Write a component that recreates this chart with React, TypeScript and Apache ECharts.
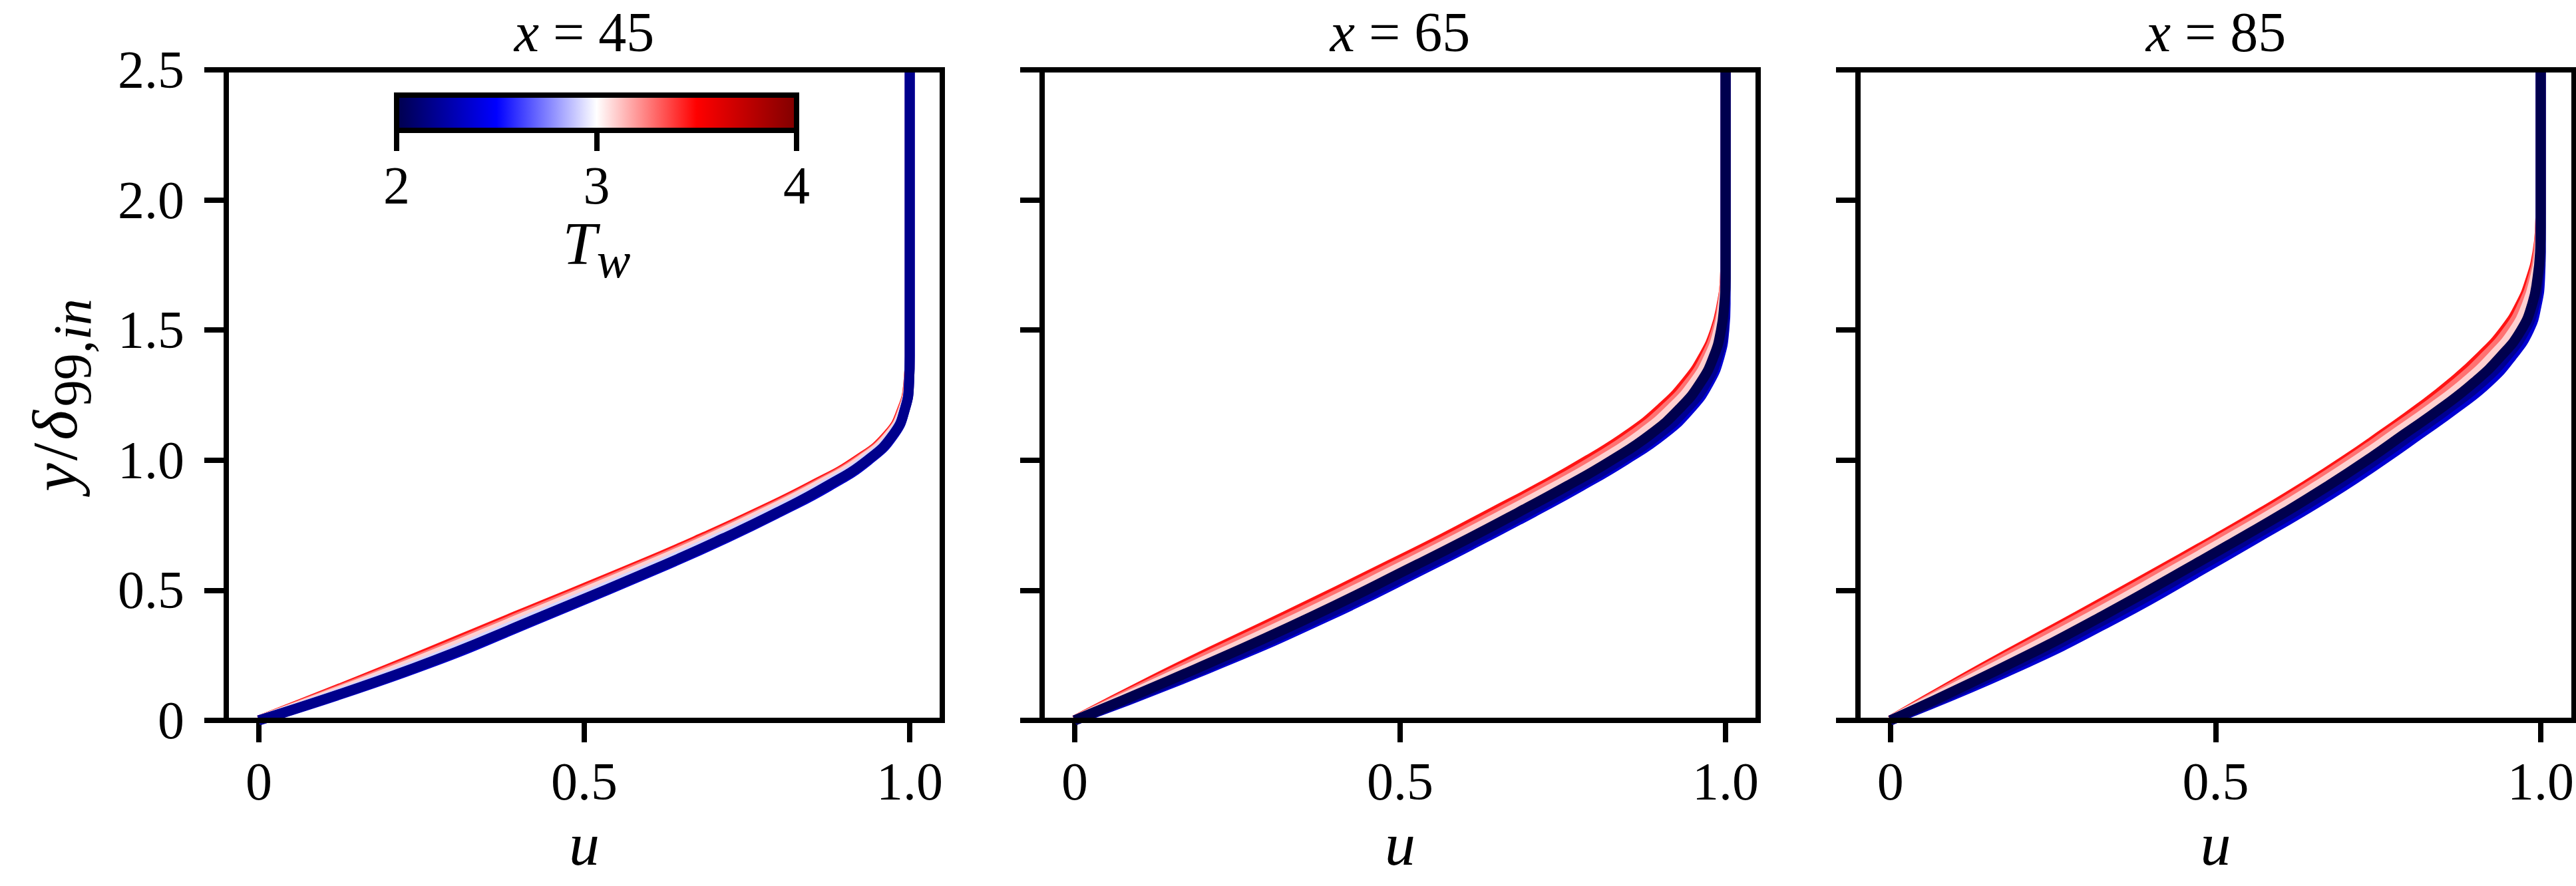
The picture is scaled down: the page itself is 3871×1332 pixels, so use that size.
import { useEffect, useRef } from 'react'
import * as echarts from 'echarts'

// wall-normal stations, one panel each
const STATIONS = [45, 65, 85]

// y/delta_99,in grid shared by every profile
const Y = [0, 0.2, 0.4, 0.6, 0.7, 0.8, 0.9, 1.0, 1.1, 1.2, 1.3, 1.4, 1.5, 1.6, 1.7, 1.8, 1.9, 2.0, 2.5]

const X_TICKS = [0, 0.5, 1.0]
const Y_TICKS = [0, 0.5, 1.0, 1.5, 2.0, 2.5]
const TW_TICKS = [2, 3, 4]
const TW_RANGE = [2, 4]

// seismic colormap stops
const SEISMIC = ['#00004d', '#0000ff', '#ffffff', '#ff0000', '#800000']

// u at each Y, x = 45
const X45_RED = [0, 0.201, 0.394, 0.588, 0.68, 0.767, 0.848, 0.919, 0.967, 0.989, 0.998, 1, 1, 1, 1, 1, 1, 1, 1]
const X45_SALMON = [0, 0.208, 0.402, 0.595, 0.687, 0.773, 0.853, 0.922, 0.969, 0.99, 0.998, 1, 1, 1, 1, 1, 1, 1, 1]
const X45_PINK = [0, 0.215, 0.41, 0.602, 0.693, 0.778, 0.857, 0.925, 0.97, 0.991, 0.999, 1, 1, 1, 1, 1, 1, 1, 1]
const X45_LAVENDER = [0, 0.228, 0.424, 0.615, 0.705, 0.789, 0.866, 0.931, 0.973, 0.992, 0.999, 1, 1, 1, 1, 1, 1, 1, 1]
const X45_BLUE = [0, 0.241, 0.439, 0.629, 0.718, 0.8, 0.876, 0.937, 0.976, 0.993, 0.999, 1, 1, 1, 1, 1, 1, 1, 1]
const X45_NAVY = [0, 0.237, 0.435, 0.625, 0.714, 0.797, 0.872, 0.935, 0.975, 0.993, 0.999, 1, 1, 1, 1, 1, 1, 1, 1]

// x = 65
const X65_RED = [0, 0.156, 0.323, 0.486, 0.566, 0.642, 0.718, 0.788, 0.851, 0.901, 0.939, 0.966, 0.984, 0.994, 0.999, 1, 1, 1, 1]
const X65_SALMON = [0, 0.164, 0.333, 0.496, 0.576, 0.652, 0.727, 0.797, 0.859, 0.908, 0.945, 0.97, 0.986, 0.995, 0.999, 1, 1, 1, 1]
const X65_PINK = [0, 0.174, 0.347, 0.509, 0.588, 0.664, 0.739, 0.809, 0.87, 0.917, 0.952, 0.975, 0.989, 0.996, 1, 1, 1, 1, 1]
const X65_BLUE = [0, 0.206, 0.389, 0.551, 0.629, 0.705, 0.778, 0.846, 0.905, 0.947, 0.975, 0.991, 0.998, 1, 1, 1, 1, 1, 1]
const X65_NAVY = [0, 0.2, 0.381, 0.543, 0.621, 0.697, 0.77, 0.839, 0.898, 0.941, 0.971, 0.988, 0.997, 0.999, 1, 1, 1, 1, 1]
const X65_DARK = [0, 0.188, 0.365, 0.527, 0.606, 0.682, 0.756, 0.825, 0.885, 0.93, 0.962, 0.982, 0.993, 0.998, 1, 1, 1, 1, 1]

// x = 85
const X85_RED = [0, 0.14, 0.287, 0.431, 0.502, 0.571, 0.637, 0.699, 0.757, 0.813, 0.864, 0.908, 0.944, 0.969, 0.985, 0.995, 0.999, 1, 1]
const X85_SALMON = [0, 0.146, 0.295, 0.439, 0.509, 0.579, 0.644, 0.706, 0.764, 0.821, 0.872, 0.915, 0.95, 0.973, 0.988, 0.996, 0.999, 1, 1]
const X85_PINK = [0, 0.156, 0.308, 0.451, 0.521, 0.59, 0.655, 0.717, 0.775, 0.832, 0.884, 0.926, 0.959, 0.979, 0.991, 0.998, 1, 1, 1]
const X85_BLUE = [0, 0.191, 0.352, 0.494, 0.563, 0.632, 0.697, 0.757, 0.814, 0.87, 0.92, 0.956, 0.982, 0.994, 0.999, 1, 1, 1, 1]
const X85_NAVY = [0, 0.181, 0.339, 0.482, 0.552, 0.621, 0.686, 0.746, 0.803, 0.859, 0.91, 0.948, 0.976, 0.991, 0.997, 1, 1, 1, 1]
const X85_DARK = [0, 0.17, 0.325, 0.468, 0.538, 0.607, 0.672, 0.733, 0.79, 0.847, 0.898, 0.939, 0.97, 0.987, 0.995, 0.999, 1, 1, 1]

// drawing order per panel, last on top
const PROFILES = [
  [
    { color: '#ff1414', u: X45_RED },
    { color: '#ff7272', u: X45_SALMON },
    { color: '#ffd0d0', u: X45_PINK },
    { color: '#d4d4ff', u: X45_LAVENDER },
    { color: '#0000cc', u: X45_BLUE },
    { color: '#00008c', u: X45_NAVY },
  ],
  [
    { color: '#ff1414', u: X65_RED },
    { color: '#ff7272', u: X65_SALMON },
    { color: '#ffd0d0', u: X65_PINK },
    { color: '#0000d2', u: X65_BLUE },
    { color: '#000092', u: X65_NAVY },
    { color: '#00004e', u: X65_DARK },
  ],
  [
    { color: '#ff1414', u: X85_RED },
    { color: '#ff7272', u: X85_SALMON },
    { color: '#ffd0d0', u: X85_PINK },
    { color: '#0000d2', u: X85_BLUE },
    { color: '#000092', u: X85_NAVY },
    { color: '#00004e', u: X85_DARK },
  ],
]

const W = 3871
const H = 1332
const PANEL_LEFT = [340, 1566, 2792]
const PANEL_TOP = 105
const PANEL_W = 1076
const PANEL_H = 978
const CBAR = { left: 596, top: 143, width: 601, height: 53 }
const SERIF = '"Liberation Serif", "Times New Roman", serif'

const fmt = (v: number) => (v === 0 ? '0' : v.toFixed(1))

const txt = (size: number, italic = false, extra: object = {}) => ({
  fontFamily: SERIF,
  fontSize: size,
  lineHeight: size,
  fontStyle: italic ? 'italic' : 'normal',
  color: '#000',
  verticalAlign: 'top',
  ...extra,
})

// y label: main 96, subscript 80 dropped by padding
const YLABEL_RICH = {
  i: txt(96, true),
  r: txt(96, false, { padding: [0, 4, 0, 4] }),
  s: txt(80, false, { padding: [35, 0, 0, 6] }),
  si: txt(80, true, { padding: [35, 0, 0, 0] }),
}

const U_RICH = { i: txt(92, true) }

const TW_RICH = {
  i: txt(92, true),
  si: txt(76, true, { padding: [33, 0, 0, 0] }),
}

const TITLE_RICH = { ti: txt(84, true), tr: txt(84) }

export default function App() {
  const ref = useRef<HTMLDivElement>(null)

  useEffect(() => {
    if (!ref.current) return
    const chart = echarts.init(ref.current, undefined, { renderer: 'svg' })

    const tick = { show: true, inside: false, length: 33, lineStyle: { color: '#000', width: 8 } }
    const label = { fontFamily: SERIF, fontSize: 80, color: '#000' }
    const noLine = { show: false, onZero: false }

    const grids: any[] = PANEL_LEFT.map((left) => ({ left, top: PANEL_TOP, width: PANEL_W, height: PANEL_H }))
    grids.push({ ...CBAR })

    const xAxes: any[] = PANEL_LEFT.map((_, i) => ({
      type: 'value',
      gridIndex: i,
      min: -0.05,
      max: 1.05,
      axisLine: noLine,
      splitLine: { show: false },
      axisTick: { ...tick, customValues: X_TICKS },
      axisLabel: { ...label, customValues: X_TICKS, formatter: fmt, margin: 52 },
      name: '{i|u}',
      nameLocation: 'middle',
      nameGap: 140,
      nameTextStyle: { rich: U_RICH },
    }))
    xAxes.push({
      type: 'value',
      gridIndex: 3,
      min: TW_RANGE[0],
      max: TW_RANGE[1],
      axisLine: noLine,
      splitLine: { show: false },
      axisTick: { ...tick, length: 31, customValues: TW_TICKS },
      axisLabel: { ...label, customValues: TW_TICKS, formatter: (v: number) => String(v), margin: 43 },
      name: '{i|T}{si|w}',
      nameLocation: 'middle',
      nameGap: 119,
      nameTextStyle: { rich: TW_RICH },
    })

    const yAxes: any[] = PANEL_LEFT.map((_, i) => ({
      type: 'value',
      gridIndex: i,
      min: Y_TICKS[0],
      max: Y_TICKS[Y_TICKS.length - 1],
      interval: 0.5,
      axisLine: noLine,
      splitLine: { show: false },
      axisTick: tick,
      axisLabel: { ...label, show: i === 0, formatter: fmt, margin: 63 },
      name: i === 0 ? '{i|y}{r|/}{i|δ}{s|99,}{si|in}' : '',
      nameLocation: 'middle',
      nameRotate: 90,
      nameGap: 210,
      nameTextStyle: { rich: YLABEL_RICH },
    }))
    yAxes.push({ type: 'value', gridIndex: 3, show: false, min: 0, max: 1 })

    const series: any[] = []
    PROFILES.forEach((lines, p) => {
      lines.forEach((ln) => {
        series.push({
          type: 'line',
          xAxisIndex: p,
          yAxisIndex: p,
          data: Y.map((y, k) => [ln.u[k], y]),
          showSymbol: false,
          symbol: 'none',
          smooth: 0.5,
          lineStyle: { color: ln.color, width: 15 },
          silent: true,
        })
      })
    })

    const graphics: any[] = PANEL_LEFT.map((left) => ({
      type: 'rect',
      z: 100,
      silent: true,
      shape: { x: left, y: PANEL_TOP, width: PANEL_W, height: PANEL_H },
      style: { fill: 'none', stroke: '#000', lineWidth: 8 },
    }))
    STATIONS.forEach((s, i) => {
      graphics.push({
        type: 'text',
        z: 100,
        x: PANEL_LEFT[i] + PANEL_W / 2,
        y: 6,
        style: {
          text: `{ti|x}{tr| = ${s}}`,
          rich: TITLE_RICH,
          align: 'center',
          verticalAlign: 'top',
        },
      })
    })
    graphics.push({
      type: 'rect',
      z: 100,
      silent: true,
      shape: { x: CBAR.left, y: CBAR.top, width: CBAR.width, height: CBAR.height },
      style: {
        fill: new echarts.graphic.LinearGradient(
          0, 0, 1, 0,
          SEISMIC.map((c, k) => ({ offset: k / (SEISMIC.length - 1), color: c })),
        ),
        stroke: '#000',
        lineWidth: 8,
      },
    })

    chart.setOption({
      animation: false,
      backgroundColor: '#fff',
      grid: grids,
      xAxis: xAxes,
      yAxis: yAxes,
      series,
      graphic: graphics,
    })

    return () => chart.dispose()
  }, [])

  return (
    <div
      ref={ref}
      style={{ position: 'fixed', left: 0, top: 0, width: W, height: H, background: '#fff' }}
    />
  )
}
